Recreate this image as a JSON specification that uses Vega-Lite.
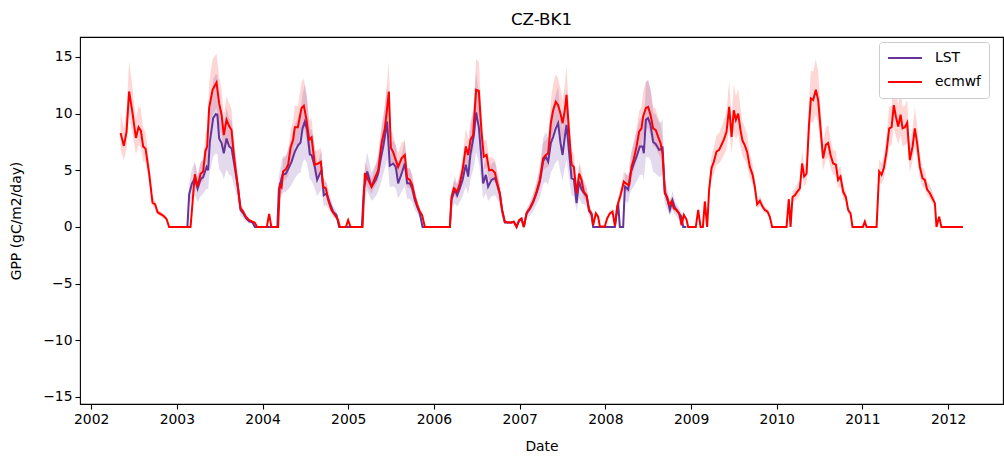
{
"$schema":"https://vega.github.io/schema/vega-lite/v6.json",
"width":923,"height":367,
"autosize":{"type":"none"},
"padding":{"left":80,"top":37,"right":1,"bottom":55},
"background":"white",
"config":{"font":"DejaVu Sans","view":{"stroke":"black","strokeWidth":1.1},
"axis":{"grid":false,"domain":false,"tickColor":"black","tickSize":5,"tickWidth":1.1,"labelColor":"black","titleColor":"black","labelFontSize":13.9,"titleFontSize":13.9,"titleFontWeight":"normal","labelFont":"DejaVu Sans","titleFont":"DejaVu Sans"},
"legend":{"orient":"none","legendX":799,"legendY":5,"symbolType":"stroke","symbolStrokeWidth":2,"symbolSize":1150,"clipHeight":16,"labelFontSize":13.9,"labelFont":"DejaVu Sans","labelColor":"black","fillColor":"white","strokeColor":"#cccccc","cornerRadius":3,"padding":8,"rowPadding":8,"labelOffset":12}},
"title":{"text":"CZ-BK1","fontSize":16.7,"fontWeight":"normal","font":"DejaVu Sans","color":"black","offset":8},
"datasets":{
"ecmwf":[
{"t":2002.343,"v":8.3,"lo":6.8,"hi":10.1},{"t":2002.382,"v":7.15,"lo":5.9,"hi":8.7},{"t":2002.413,"v":8.4,"lo":6.9,"hi":10.2},{"t":2002.443,"v":11.95,"lo":9.8,"hi":14.6},{"t":2002.478,"v":10.3,"lo":8.4,"hi":12.6},{"t":2002.522,"v":7.85,"lo":6.4,"hi":9.6},{"t":2002.553,"v":8.8,"lo":7.2,"hi":10.7},{"t":2002.58,"v":8.5,"lo":7.0,"hi":10.4},{"t":2002.607,"v":7.1,"lo":5.8,"hi":8.7},{"t":2002.635,"v":6.9,"lo":5.7,"hi":8.4},{"t":2002.677,"v":4.7,"lo":3.9,"hi":5.7},{"t":2002.716,"v":2.15,"lo":1.8,"hi":2.6},{"t":2002.747,"v":2.0,"lo":1.6,"hi":2.4},{"t":2002.775,"v":1.3,"lo":1.1,"hi":1.6},{"t":2002.84,"v":1.0,"lo":0.8,"hi":1.2},{"t":2002.88,"v":0.7,"lo":0.6,"hi":0.9},{"t":2002.91,"v":0,"lo":0,"hi":0},{"t":2003.035,"v":0,"lo":0,"hi":0},{"t":2003.16,"v":0,"lo":0,"hi":0},
{"t":2003.21,"v":4.65,"lo":3.8,"hi":5.7},{"t":2003.242,"v":3.55,"lo":2.9,"hi":4.3},{"t":2003.277,"v":4.7,"lo":3.9,"hi":5.7},{"t":2003.307,"v":4.9,"lo":4.0,"hi":6.0},{"t":2003.333,"v":6.7,"lo":5.5,"hi":8.2},{"t":2003.354,"v":7.1,"lo":5.8,"hi":8.7},{"t":2003.377,"v":10.5,"lo":8.6,"hi":12.8},{"t":2003.417,"v":12.1,"lo":9.9,"hi":14.8},{"t":2003.463,"v":12.75,"lo":10.5,"hi":15.3},{"t":2003.494,"v":10.9,"lo":8.9,"hi":13.3},{"t":2003.522,"v":9.9,"lo":8.1,"hi":12.1},{"t":2003.548,"v":8.1,"lo":6.6,"hi":9.9},{"t":2003.58,"v":9.45,"lo":7.7,"hi":11.5},{"t":2003.61,"v":8.9,"lo":7.3,"hi":10.9},{"t":2003.638,"v":8.55,"lo":7.0,"hi":10.4},{"t":2003.665,"v":6.35,"lo":5.2,"hi":7.7},{"t":2003.688,"v":4.9,"lo":4.0,"hi":6.0},{"t":2003.715,"v":3.4,"lo":2.8,"hi":4.1},{"t":2003.743,"v":1.65,"lo":1.4,"hi":2.0},{"t":2003.774,"v":1.35,"lo":1.1,"hi":1.6},{"t":2003.805,"v":0.9,"lo":0.7,"hi":1.1},{"t":2003.844,"v":0.6,"lo":0.5,"hi":0.7},{"t":2003.883,"v":0.47,"lo":0.4,"hi":0.6},{"t":2003.91,"v":0.38,"lo":0.3,"hi":0.5},{"t":2003.937,"v":0,"lo":0,"hi":0},{"t":2004.05,"v":0,"lo":0,"hi":0},{"t":2004.077,"v":1.15,"lo":0.9,"hi":1.4},{"t":2004.103,"v":0,"lo":0,"hi":0},{"t":2004.182,"v":0,"lo":0,"hi":0},
{"t":2004.202,"v":3.7,"lo":3.0,"hi":4.5},{"t":2004.222,"v":3.5,"lo":2.9,"hi":4.3},{"t":2004.24,"v":4.9,"lo":4.0,"hi":6.0},{"t":2004.272,"v":5.1,"lo":4.2,"hi":6.2},{"t":2004.299,"v":5.5,"lo":4.5,"hi":6.7},{"t":2004.327,"v":7.0,"lo":5.7,"hi":8.5},{"t":2004.357,"v":7.7,"lo":6.3,"hi":9.4},{"t":2004.377,"v":8.8,"lo":7.2,"hi":10.7},{"t":2004.412,"v":8.8,"lo":7.2,"hi":10.7},{"t":2004.455,"v":10.5,"lo":8.6,"hi":12.8},{"t":2004.482,"v":10.7,"lo":8.8,"hi":13.1},{"t":2004.513,"v":9.45,"lo":7.7,"hi":11.5},{"t":2004.544,"v":7.7,"lo":6.3,"hi":9.4},{"t":2004.572,"v":7.9,"lo":6.5,"hi":9.6},{"t":2004.61,"v":5.5,"lo":4.5,"hi":6.7},{"t":2004.649,"v":5.6,"lo":4.6,"hi":6.8},{"t":2004.68,"v":5.75,"lo":4.7,"hi":7.0},{"t":2004.707,"v":3.55,"lo":2.9,"hi":4.3},{"t":2004.739,"v":3.4,"lo":2.8,"hi":4.1},{"t":2004.765,"v":2.4,"lo":2.0,"hi":2.9},{"t":2004.805,"v":1.5,"lo":1.2,"hi":1.8},{"t":2004.844,"v":1.05,"lo":0.9,"hi":1.3},{"t":2004.882,"v":0.6,"lo":0.5,"hi":0.7},{"t":2004.902,"v":0,"lo":0,"hi":0},{"t":2004.972,"v":0,"lo":0,"hi":0},{"t":2004.999,"v":0.6,"lo":0.5,"hi":0.7},{"t":2005.027,"v":0,"lo":0,"hi":0},{"t":2005.167,"v":0,"lo":0,"hi":0},
{"t":2005.194,"v":4.75,"lo":3.9,"hi":5.8},{"t":2005.232,"v":4.15,"lo":3.4,"hi":5.1},{"t":2005.272,"v":3.55,"lo":2.9,"hi":4.3},{"t":2005.31,"v":4.3,"lo":3.5,"hi":5.2},{"t":2005.349,"v":5.0,"lo":4.1,"hi":6.1},{"t":2005.389,"v":7.4,"lo":6.1,"hi":9.0},{"t":2005.427,"v":8.7,"lo":7.1,"hi":10.6},{"t":2005.447,"v":10.0,"lo":8.2,"hi":12.2},{"t":2005.474,"v":11.95,"lo":9.8,"hi":14.6},{"t":2005.497,"v":7.0,"lo":5.7,"hi":8.5},{"t":2005.524,"v":6.6,"lo":5.4,"hi":8.1},{"t":2005.555,"v":5.9,"lo":4.8,"hi":7.2},{"t":2005.582,"v":5.3,"lo":4.3,"hi":6.5},{"t":2005.622,"v":6.05,"lo":5.0,"hi":7.4},{"t":2005.66,"v":6.35,"lo":5.2,"hi":7.7},{"t":2005.687,"v":4.3,"lo":3.5,"hi":5.2},{"t":2005.719,"v":4.15,"lo":3.4,"hi":5.1},{"t":2005.746,"v":3.7,"lo":3.0,"hi":4.5},{"t":2005.777,"v":2.65,"lo":2.2,"hi":3.2},{"t":2005.804,"v":1.95,"lo":1.6,"hi":2.4},{"t":2005.835,"v":1.35,"lo":1.1,"hi":1.6},{"t":2005.862,"v":1.05,"lo":0.9,"hi":1.3},{"t":2005.894,"v":0,"lo":0,"hi":0},{"t":2006.186,"v":0,"lo":0,"hi":0},
{"t":2006.205,"v":2.65,"lo":2.2,"hi":3.2},{"t":2006.232,"v":3.4,"lo":2.8,"hi":4.1},{"t":2006.271,"v":3.1,"lo":2.5,"hi":3.8},{"t":2006.302,"v":3.85,"lo":3.2,"hi":4.7},{"t":2006.334,"v":5.0,"lo":4.1,"hi":6.1},{"t":2006.372,"v":7.1,"lo":5.8,"hi":8.7},{"t":2006.399,"v":6.35,"lo":5.2,"hi":7.7},{"t":2006.427,"v":7.7,"lo":6.3,"hi":9.4},{"t":2006.457,"v":8.1,"lo":6.6,"hi":9.9},{"t":2006.492,"v":12.1,"lo":9.9,"hi":14.8},{"t":2006.524,"v":12.0,"lo":9.8,"hi":14.6},{"t":2006.555,"v":8.4,"lo":6.9,"hi":10.2},{"t":2006.582,"v":6.2,"lo":5.1,"hi":7.6},{"t":2006.614,"v":6.35,"lo":5.2,"hi":7.7},{"t":2006.644,"v":5.0,"lo":4.1,"hi":6.1},{"t":2006.676,"v":5.05,"lo":4.1,"hi":6.2},{"t":2006.711,"v":4.8,"lo":3.9,"hi":5.9},{"t":2006.737,"v":3.85,"lo":3.2,"hi":4.7},{"t":2006.769,"v":2.95,"lo":2.4,"hi":3.6},{"t":2006.796,"v":1.5,"lo":1.2,"hi":1.8},{"t":2006.827,"v":0.47,"lo":0.4,"hi":0.6},{"t":2006.862,"v":0.4,"lo":0.3,"hi":0.5},{"t":2006.906,"v":0.4,"lo":0.3,"hi":0.5},{"t":2006.932,"v":0.47,"lo":0.4,"hi":0.6},{"t":2006.964,"v":0,"lo":0,"hi":0},{"t":2006.994,"v":0.6,"lo":0.5,"hi":0.7},{"t":2007.022,"v":0.75,"lo":0.6,"hi":0.9},{"t":2007.049,"v":0,"lo":0,"hi":0},
{"t":2007.081,"v":1.25,"lo":1.0,"hi":1.5},{"t":2007.119,"v":1.65,"lo":1.4,"hi":2.0},{"t":2007.158,"v":2.25,"lo":1.8,"hi":2.7},{"t":2007.197,"v":3.1,"lo":2.5,"hi":3.8},{"t":2007.236,"v":4.15,"lo":3.4,"hi":5.1},{"t":2007.274,"v":6.05,"lo":5.0,"hi":7.4},{"t":2007.306,"v":6.35,"lo":5.2,"hi":7.7},{"t":2007.333,"v":6.5,"lo":5.3,"hi":7.9},{"t":2007.364,"v":9.15,"lo":7.5,"hi":11.2},{"t":2007.391,"v":10.3,"lo":8.4,"hi":12.6},{"t":2007.422,"v":11.05,"lo":9.1,"hi":13.5},{"t":2007.449,"v":10.75,"lo":8.8,"hi":13.1},{"t":2007.477,"v":10.0,"lo":8.2,"hi":12.2},{"t":2007.501,"v":9.15,"lo":7.5,"hi":11.2},{"t":2007.527,"v":10.3,"lo":8.4,"hi":12.6},{"t":2007.547,"v":11.65,"lo":9.6,"hi":14.2},{"t":2007.578,"v":8.2,"lo":6.7,"hi":10.0},{"t":2007.606,"v":5.5,"lo":4.5,"hi":6.7},{"t":2007.633,"v":5.3,"lo":4.3,"hi":6.5},{"t":2007.664,"v":2.95,"lo":2.4,"hi":3.6},{"t":2007.694,"v":4.7,"lo":3.9,"hi":5.7},{"t":2007.722,"v":4.15,"lo":3.4,"hi":5.1},{"t":2007.749,"v":3.1,"lo":2.5,"hi":3.8},{"t":2007.781,"v":2.8,"lo":2.3,"hi":3.4},{"t":2007.811,"v":1.5,"lo":1.2,"hi":1.8},{"t":2007.839,"v":1.2,"lo":1.0,"hi":1.5},{"t":2007.858,"v":0.15,"lo":0.1,"hi":0.2},{"t":2007.889,"v":1.2,"lo":1.0,"hi":1.5},{"t":2007.916,"v":0.9,"lo":0.7,"hi":1.1},{"t":2007.936,"v":0.05,"lo":0,"hi":0.1},{"t":2007.994,"v":0.05,"lo":0,"hi":0.1},
{"t":2008.021,"v":0.75,"lo":0.6,"hi":0.9},{"t":2008.053,"v":1.2,"lo":1.0,"hi":1.5},{"t":2008.084,"v":1.35,"lo":1.1,"hi":1.6},{"t":2008.111,"v":0.1,"lo":0.1,"hi":0.1},{"t":2008.138,"v":1.8,"lo":1.5,"hi":2.2},{"t":2008.177,"v":2.8,"lo":2.3,"hi":3.4},{"t":2008.216,"v":4.0,"lo":3.3,"hi":4.9},{"t":2008.247,"v":3.8,"lo":3.1,"hi":4.6},{"t":2008.278,"v":3.7,"lo":3.0,"hi":4.5},{"t":2008.306,"v":5.3,"lo":4.3,"hi":6.5},{"t":2008.333,"v":6.05,"lo":5.0,"hi":7.4},{"t":2008.364,"v":7.1,"lo":5.8,"hi":8.7},{"t":2008.394,"v":8.4,"lo":6.9,"hi":10.2},{"t":2008.422,"v":8.7,"lo":7.1,"hi":10.6},{"t":2008.441,"v":9.75,"lo":8.0,"hi":11.9},{"t":2008.473,"v":10.5,"lo":8.6,"hi":12.8},{"t":2008.499,"v":10.6,"lo":8.7,"hi":12.9},{"t":2008.527,"v":9.9,"lo":8.1,"hi":12.1},{"t":2008.558,"v":8.7,"lo":7.1,"hi":10.6},{"t":2008.589,"v":8.55,"lo":7.0,"hi":10.4},{"t":2008.616,"v":7.95,"lo":6.5,"hi":9.7},{"t":2008.644,"v":7.4,"lo":6.1,"hi":9.0},{"t":2008.667,"v":6.5,"lo":5.3,"hi":7.9},{"t":2008.694,"v":2.95,"lo":2.4,"hi":3.6},{"t":2008.721,"v":2.65,"lo":2.2,"hi":3.2},{"t":2008.744,"v":1.95,"lo":1.6,"hi":2.4},{"t":2008.772,"v":2.25,"lo":1.8,"hi":2.7},{"t":2008.799,"v":1.65,"lo":1.4,"hi":2.0},{"t":2008.831,"v":1.5,"lo":1.2,"hi":1.8},{"t":2008.861,"v":1.2,"lo":1.0,"hi":1.5},{"t":2008.889,"v":0.15,"lo":0.1,"hi":0.2},{"t":2008.916,"v":1.05,"lo":0.9,"hi":1.3},{"t":2008.947,"v":0.65,"lo":0.5,"hi":0.8},{"t":2008.966,"v":0,"lo":0,"hi":0},
{"t":2009.056,"v":0,"lo":0,"hi":0},{"t":2009.083,"v":1.5,"lo":1.2,"hi":1.8},{"t":2009.111,"v":0,"lo":0,"hi":0},{"t":2009.138,"v":0,"lo":0,"hi":0},{"t":2009.161,"v":2.25,"lo":1.8,"hi":2.7},{"t":2009.188,"v":0,"lo":0,"hi":0},{"t":2009.211,"v":3.3,"lo":2.7,"hi":4.0},{"t":2009.239,"v":5.2,"lo":4.3,"hi":6.3},{"t":2009.266,"v":5.75,"lo":4.7,"hi":7.0},{"t":2009.297,"v":6.65,"lo":5.5,"hi":8.1},{"t":2009.328,"v":6.8,"lo":5.6,"hi":8.3},{"t":2009.356,"v":7.25,"lo":5.9,"hi":8.8},{"t":2009.383,"v":7.7,"lo":6.3,"hi":9.4},{"t":2009.414,"v":8.4,"lo":6.9,"hi":10.2},{"t":2009.445,"v":10.6,"lo":8.7,"hi":12.9},{"t":2009.473,"v":7.95,"lo":6.5,"hi":9.7},{"t":2009.499,"v":10.3,"lo":8.4,"hi":12.6},{"t":2009.523,"v":9.45,"lo":7.7,"hi":11.5},{"t":2009.55,"v":10.0,"lo":8.2,"hi":12.2},{"t":2009.578,"v":8.5,"lo":7.0,"hi":10.4},{"t":2009.601,"v":7.6,"lo":6.2,"hi":9.3},{"t":2009.628,"v":7.2,"lo":5.9,"hi":8.8},{"t":2009.655,"v":6.6,"lo":5.4,"hi":8.1},{"t":2009.686,"v":5.3,"lo":4.3,"hi":6.5},{"t":2009.718,"v":4.6,"lo":3.8,"hi":5.6},{"t":2009.744,"v":3.55,"lo":2.9,"hi":4.3},{"t":2009.771,"v":2.0,"lo":1.6,"hi":2.4},{"t":2009.803,"v":2.3,"lo":1.9,"hi":2.8},{"t":2009.834,"v":1.8,"lo":1.5,"hi":2.2},{"t":2009.861,"v":1.5,"lo":1.2,"hi":1.8},{"t":2009.893,"v":1.35,"lo":1.1,"hi":1.6},{"t":2009.919,"v":0.9,"lo":0.7,"hi":1.1},{"t":2009.946,"v":0,"lo":0,"hi":0},
{"t":2010.114,"v":0,"lo":0,"hi":0},{"t":2010.141,"v":2.45,"lo":2.0,"hi":3.0},{"t":2010.161,"v":0,"lo":0,"hi":0},{"t":2010.184,"v":2.65,"lo":2.2,"hi":3.2},{"t":2010.211,"v":2.8,"lo":2.3,"hi":3.4},{"t":2010.238,"v":3.1,"lo":2.5,"hi":3.8},{"t":2010.27,"v":3.4,"lo":2.8,"hi":4.1},{"t":2010.296,"v":5.6,"lo":4.6,"hi":6.8},{"t":2010.32,"v":4.45,"lo":3.6,"hi":5.4},{"t":2010.348,"v":4.7,"lo":3.9,"hi":5.7},{"t":2010.375,"v":8.85,"lo":7.3,"hi":10.8},{"t":2010.398,"v":11.35,"lo":9.3,"hi":13.8},{"t":2010.425,"v":11.2,"lo":9.2,"hi":13.7},{"t":2010.456,"v":12.1,"lo":9.9,"hi":14.8},{"t":2010.483,"v":11.2,"lo":9.2,"hi":13.7},{"t":2010.511,"v":8.7,"lo":7.1,"hi":10.6},{"t":2010.541,"v":6.05,"lo":5.0,"hi":7.4},{"t":2010.573,"v":7.25,"lo":5.9,"hi":8.8},{"t":2010.6,"v":7.4,"lo":6.1,"hi":9.0},{"t":2010.628,"v":6.35,"lo":5.2,"hi":7.7},{"t":2010.658,"v":5.6,"lo":4.6,"hi":6.8},{"t":2010.69,"v":5.5,"lo":4.5,"hi":6.7},{"t":2010.716,"v":4.15,"lo":3.4,"hi":5.1},{"t":2010.744,"v":4.45,"lo":3.6,"hi":5.4},{"t":2010.775,"v":3.1,"lo":2.5,"hi":3.8},{"t":2010.806,"v":2.65,"lo":2.2,"hi":3.2},{"t":2010.833,"v":1.5,"lo":1.2,"hi":1.8},{"t":2010.861,"v":1.2,"lo":1.0,"hi":1.5},{"t":2010.884,"v":0,"lo":0,"hi":0},
{"t":2011.005,"v":0,"lo":0,"hi":0},{"t":2011.028,"v":0.47,"lo":0.4,"hi":0.6},{"t":2011.048,"v":0,"lo":0,"hi":0},{"t":2011.165,"v":0,"lo":0,"hi":0},{"t":2011.195,"v":4.9,"lo":4.0,"hi":6.0},{"t":2011.223,"v":4.6,"lo":3.8,"hi":5.6},{"t":2011.25,"v":5.2,"lo":4.3,"hi":6.3},{"t":2011.281,"v":6.65,"lo":5.5,"hi":8.1},{"t":2011.312,"v":8.7,"lo":7.1,"hi":10.6},{"t":2011.34,"v":8.8,"lo":7.2,"hi":10.7},{"t":2011.366,"v":10.75,"lo":8.8,"hi":13.1},{"t":2011.39,"v":9.75,"lo":8.0,"hi":11.9},{"t":2011.417,"v":8.85,"lo":7.3,"hi":10.8},{"t":2011.445,"v":9.9,"lo":8.1,"hi":12.1},{"t":2011.468,"v":8.7,"lo":7.1,"hi":10.6},{"t":2011.495,"v":8.8,"lo":7.2,"hi":10.7},{"t":2011.522,"v":9.2,"lo":7.5,"hi":11.2},{"t":2011.553,"v":5.9,"lo":4.8,"hi":7.2},{"t":2011.585,"v":7.1,"lo":5.8,"hi":8.7},{"t":2011.611,"v":8.7,"lo":7.1,"hi":10.6},{"t":2011.638,"v":7.4,"lo":6.1,"hi":9.0},{"t":2011.67,"v":5.3,"lo":4.3,"hi":6.5},{"t":2011.701,"v":4.3,"lo":3.5,"hi":5.2},{"t":2011.728,"v":4.15,"lo":3.4,"hi":5.1},{"t":2011.755,"v":3.3,"lo":2.7,"hi":4.0},{"t":2011.786,"v":3.0,"lo":2.5,"hi":3.7},{"t":2011.818,"v":2.5,"lo":2.1,"hi":3.1},{"t":2011.845,"v":2.1,"lo":1.7,"hi":2.6},{"t":2011.864,"v":0,"lo":0,"hi":0},{"t":2011.895,"v":0.9,"lo":0.7,"hi":1.1},{"t":2011.921,"v":0,"lo":0,"hi":0},{"t":2012.172,"v":0,"lo":0,"hi":0}
],
"lst":[
{"t":2003.123,"v":0,"lo":0,"hi":0},{"t":2003.144,"v":2.9,"lo":1.9,"hi":3.9},{"t":2003.175,"v":3.8,"lo":2.5,"hi":5.1},{"t":2003.21,"v":4.3,"lo":2.8,"hi":5.8},{"t":2003.242,"v":3.4,"lo":2.2,"hi":4.6},{"t":2003.277,"v":4.2,"lo":2.7,"hi":5.7},{"t":2003.307,"v":4.4,"lo":2.9,"hi":5.9},{"t":2003.347,"v":5.3,"lo":3.4,"hi":7.2},{"t":2003.365,"v":5.0,"lo":3.3,"hi":6.8},{"t":2003.385,"v":7.5,"lo":4.9,"hi":10.1},{"t":2003.424,"v":9.6,"lo":6.2,"hi":13.0},{"t":2003.455,"v":9.97,"lo":6.5,"hi":13.5},{"t":2003.473,"v":9.9,"lo":6.4,"hi":13.4},{"t":2003.494,"v":7.8,"lo":5.1,"hi":10.5},{"t":2003.522,"v":7.4,"lo":4.8,"hi":10.0},{"t":2003.548,"v":6.5,"lo":4.2,"hi":8.8},{"t":2003.58,"v":7.8,"lo":5.1,"hi":10.5},{"t":2003.61,"v":7.1,"lo":4.6,"hi":9.6},{"t":2003.638,"v":6.95,"lo":4.5,"hi":9.4},{"t":2003.665,"v":5.75,"lo":3.7,"hi":7.8},{"t":2003.688,"v":4.7,"lo":3.1,"hi":6.3},{"t":2003.715,"v":3.35,"lo":2.2,"hi":4.5},{"t":2003.743,"v":1.5,"lo":1.0,"hi":2.0},{"t":2003.774,"v":1.2,"lo":0.8,"hi":1.6},{"t":2003.805,"v":0.8,"lo":0.5,"hi":1.1},{"t":2003.844,"v":0.5,"lo":0.3,"hi":0.7},{"t":2003.883,"v":0.4,"lo":0.3,"hi":0.5},{"t":2003.91,"v":0,"lo":0,"hi":0},{"t":2004.173,"v":0,"lo":0,"hi":0},
{"t":2004.19,"v":3.3,"lo":2.1,"hi":4.5},{"t":2004.233,"v":4.6,"lo":3.0,"hi":6.2},{"t":2004.272,"v":4.7,"lo":3.1,"hi":6.3},{"t":2004.299,"v":5.1,"lo":3.3,"hi":6.9},{"t":2004.338,"v":5.75,"lo":3.7,"hi":7.8},{"t":2004.377,"v":6.65,"lo":4.3,"hi":9.0},{"t":2004.415,"v":7.2,"lo":4.7,"hi":9.7},{"t":2004.443,"v":7.45,"lo":4.8,"hi":10.1},{"t":2004.467,"v":8.7,"lo":5.7,"hi":11.7},{"t":2004.494,"v":9.3,"lo":6.0,"hi":12.6},{"t":2004.52,"v":8.55,"lo":5.6,"hi":11.5},{"t":2004.552,"v":6.4,"lo":4.2,"hi":8.6},{"t":2004.572,"v":6.35,"lo":4.1,"hi":8.6},{"t":2004.61,"v":5.3,"lo":3.4,"hi":7.2},{"t":2004.637,"v":4.15,"lo":2.7,"hi":5.6},{"t":2004.669,"v":4.7,"lo":3.1,"hi":6.3},{"t":2004.688,"v":5.0,"lo":3.3,"hi":6.8},{"t":2004.715,"v":2.8,"lo":1.8,"hi":3.8},{"t":2004.747,"v":2.95,"lo":1.9,"hi":4.0},{"t":2004.785,"v":2.1,"lo":1.4,"hi":2.8},{"t":2004.824,"v":1.35,"lo":0.9,"hi":1.8},{"t":2004.863,"v":1.05,"lo":0.7,"hi":1.4},{"t":2004.894,"v":0,"lo":0,"hi":0},{"t":2005.159,"v":0,"lo":0,"hi":0},
{"t":2005.182,"v":3.3,"lo":2.1,"hi":4.5},{"t":2005.221,"v":4.9,"lo":3.2,"hi":6.6},{"t":2005.272,"v":3.55,"lo":2.3,"hi":4.8},{"t":2005.322,"v":4.15,"lo":2.7,"hi":5.6},{"t":2005.349,"v":4.7,"lo":3.1,"hi":6.3},{"t":2005.377,"v":5.9,"lo":3.8,"hi":8.0},{"t":2005.415,"v":7.4,"lo":4.8,"hi":10.0},{"t":2005.454,"v":9.3,"lo":6.0,"hi":12.6},{"t":2005.485,"v":5.4,"lo":3.5,"hi":7.3},{"t":2005.524,"v":5.6,"lo":3.6,"hi":7.6},{"t":2005.555,"v":5.3,"lo":3.4,"hi":7.2},{"t":2005.582,"v":3.85,"lo":2.5,"hi":5.2},{"t":2005.622,"v":4.7,"lo":3.1,"hi":6.3},{"t":2005.66,"v":5.6,"lo":3.6,"hi":7.6},{"t":2005.687,"v":3.85,"lo":2.5,"hi":5.2},{"t":2005.719,"v":3.85,"lo":2.5,"hi":5.2},{"t":2005.746,"v":3.4,"lo":2.2,"hi":4.6},{"t":2005.777,"v":2.35,"lo":1.5,"hi":3.2},{"t":2005.804,"v":1.8,"lo":1.2,"hi":2.4},{"t":2005.835,"v":1.2,"lo":0.8,"hi":1.6},{"t":2005.867,"v":0,"lo":0,"hi":0},{"t":2006.186,"v":0,"lo":0,"hi":0},
{"t":2006.205,"v":2.4,"lo":1.6,"hi":3.2},{"t":2006.244,"v":3.3,"lo":2.1,"hi":4.5},{"t":2006.271,"v":2.8,"lo":1.8,"hi":3.8},{"t":2006.302,"v":3.4,"lo":2.2,"hi":4.6},{"t":2006.334,"v":4.15,"lo":2.7,"hi":5.6},{"t":2006.372,"v":5.5,"lo":3.6,"hi":7.4},{"t":2006.399,"v":4.45,"lo":2.9,"hi":6.0},{"t":2006.427,"v":6.5,"lo":4.2,"hi":8.8},{"t":2006.466,"v":8.1,"lo":5.3,"hi":10.9},{"t":2006.492,"v":10.1,"lo":6.6,"hi":13.6},{"t":2006.524,"v":8.8,"lo":5.7,"hi":11.9},{"t":2006.55,"v":6.4,"lo":4.2,"hi":8.6},{"t":2006.574,"v":3.85,"lo":2.5,"hi":5.2},{"t":2006.606,"v":4.6,"lo":3.0,"hi":6.2},{"t":2006.632,"v":3.55,"lo":2.3,"hi":4.8},{"t":2006.672,"v":4.15,"lo":2.7,"hi":5.6},{"t":2006.711,"v":4.3,"lo":2.8,"hi":5.8},{"t":2006.737,"v":3.8,"lo":2.5,"hi":5.1},{"t":2006.769,"v":2.9,"lo":1.9,"hi":3.9},{"t":2006.796,"v":1.4,"lo":0.9,"hi":1.9},{"t":2006.827,"v":0.4,"lo":0.3,"hi":0.5},{"t":2006.906,"v":0.4,"lo":0.3,"hi":0.5},{"t":2006.932,"v":0.45,"lo":0.3,"hi":0.6},{"t":2006.964,"v":0,"lo":0,"hi":0},{"t":2006.994,"v":0.55,"lo":0.4,"hi":0.7},{"t":2007.022,"v":0.7,"lo":0.5,"hi":0.9},{"t":2007.049,"v":0,"lo":0,"hi":0},
{"t":2007.081,"v":1.2,"lo":0.8,"hi":1.6},{"t":2007.119,"v":1.6,"lo":1.0,"hi":2.2},{"t":2007.158,"v":2.2,"lo":1.4,"hi":3.0},{"t":2007.197,"v":3.0,"lo":2.0,"hi":4.1},{"t":2007.236,"v":4.0,"lo":2.6,"hi":5.4},{"t":2007.274,"v":5.8,"lo":3.8,"hi":7.8},{"t":2007.306,"v":6.2,"lo":4.0,"hi":8.4},{"t":2007.333,"v":5.75,"lo":3.7,"hi":7.8},{"t":2007.364,"v":7.4,"lo":4.8,"hi":10.0},{"t":2007.391,"v":7.95,"lo":5.2,"hi":10.7},{"t":2007.422,"v":8.7,"lo":5.7,"hi":11.7},{"t":2007.449,"v":9.15,"lo":5.9,"hi":12.4},{"t":2007.477,"v":7.4,"lo":4.8,"hi":10.0},{"t":2007.501,"v":6.35,"lo":4.1,"hi":8.6},{"t":2007.527,"v":7.95,"lo":5.2,"hi":10.7},{"t":2007.547,"v":9.0,"lo":5.9,"hi":12.2},{"t":2007.578,"v":6.5,"lo":4.2,"hi":8.8},{"t":2007.606,"v":4.3,"lo":2.8,"hi":5.8},{"t":2007.633,"v":4.2,"lo":2.7,"hi":5.7},{"t":2007.664,"v":2.1,"lo":1.4,"hi":2.8},{"t":2007.694,"v":4.0,"lo":2.6,"hi":5.4},{"t":2007.722,"v":3.3,"lo":2.1,"hi":4.5},{"t":2007.749,"v":3.0,"lo":2.0,"hi":4.1},{"t":2007.781,"v":2.7,"lo":1.8,"hi":3.6},{"t":2007.811,"v":1.4,"lo":0.9,"hi":1.9},{"t":2007.839,"v":1.1,"lo":0.7,"hi":1.5},{"t":2007.858,"v":0,"lo":0,"hi":0},{"t":2008.111,"v":0,"lo":0,"hi":0},
{"t":2008.149,"v":2.1,"lo":1.4,"hi":2.8},{"t":2008.169,"v":0,"lo":0,"hi":0},{"t":2008.208,"v":0,"lo":0,"hi":0},{"t":2008.228,"v":3.55,"lo":2.3,"hi":4.8},{"t":2008.266,"v":3.3,"lo":2.1,"hi":4.5},{"t":2008.294,"v":4.75,"lo":3.1,"hi":6.4},{"t":2008.333,"v":5.6,"lo":3.6,"hi":7.6},{"t":2008.364,"v":6.2,"lo":4.0,"hi":8.4},{"t":2008.403,"v":7.1,"lo":4.6,"hi":9.6},{"t":2008.434,"v":7.1,"lo":4.6,"hi":9.6},{"t":2008.449,"v":6.5,"lo":4.2,"hi":8.8},{"t":2008.473,"v":9.45,"lo":6.1,"hi":12.8},{"t":2008.499,"v":9.6,"lo":6.2,"hi":13.0},{"t":2008.527,"v":9.0,"lo":5.9,"hi":12.2},{"t":2008.558,"v":7.5,"lo":4.9,"hi":10.1},{"t":2008.589,"v":7.3,"lo":4.7,"hi":9.9},{"t":2008.628,"v":6.8,"lo":4.4,"hi":9.2},{"t":2008.656,"v":6.9,"lo":4.5,"hi":9.3},{"t":2008.667,"v":7.1,"lo":4.6,"hi":9.6},{"t":2008.694,"v":3.1,"lo":2.0,"hi":4.2},{"t":2008.721,"v":2.5,"lo":1.6,"hi":3.4},{"t":2008.753,"v":1.5,"lo":1.0,"hi":2.0},{"t":2008.784,"v":2.35,"lo":1.5,"hi":3.2},{"t":2008.811,"v":1.7,"lo":1.1,"hi":2.3},{"t":2008.85,"v":1.3,"lo":0.8,"hi":1.8},{"t":2008.889,"v":0.9,"lo":0.6,"hi":1.2},{"t":2008.908,"v":0,"lo":0,"hi":0},{"t":2008.945,"v":0,"lo":0,"hi":0}
]},
"encoding":{
"x":{"field":"t","type":"quantitative","scale":{"domain":[2001.87,2012.64],"nice":false,"zero":false},"axis":{"values":[2002,2003,2004,2005,2006,2007,2008,2009,2010,2011,2012],"format":"d","title":"Date","labelPadding":3,"titlePadding":14}},
"y":{"field":"v","type":"quantitative","scale":{"domain":[-15.62,16.76],"nice":false,"zero":false},"axis":{"values":[-15,-10,-5,0,5,10,15],"title":"GPP (gC/m2/day)","labelPadding":3,"titlePadding":19}}
},
"layer":[
{"data":{"name":"ecmwf"},"mark":{"type":"area","color":"#ff0000","opacity":0.16},"encoding":{"y":{"field":"lo","type":"quantitative"},"y2":{"field":"hi"}}},
{"data":{"name":"lst"},"mark":{"type":"area","color":"#663399","opacity":0.18},"encoding":{"y":{"field":"lo","type":"quantitative"},"y2":{"field":"hi"}}},
{"data":{"name":"lst"},"mark":{"type":"line","strokeWidth":2},"encoding":{"color":{"datum":"LST","type":"nominal","scale":{"domain":["LST","ecmwf"],"range":["#663399","#ff0000"]},"legend":{"title":null}}}},
{"data":{"name":"ecmwf"},"mark":{"type":"line","strokeWidth":2},"encoding":{"color":{"datum":"ecmwf","type":"nominal"}}}
]
}
